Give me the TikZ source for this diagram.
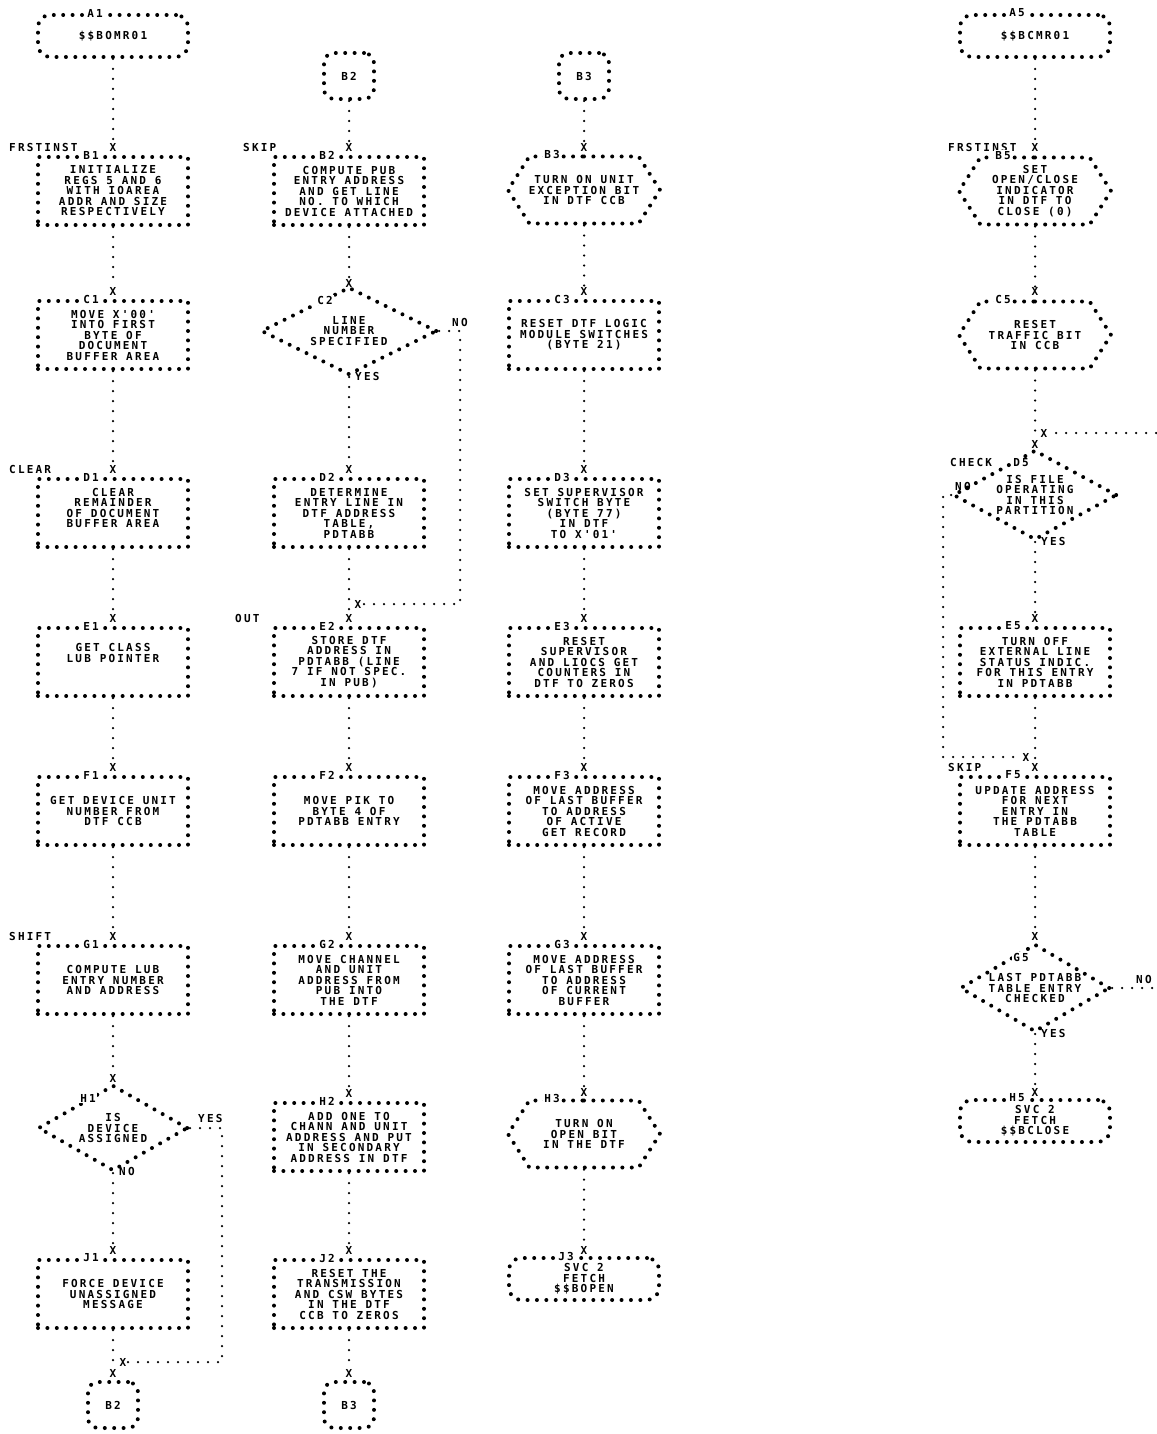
\documentclass[tikz,border=0pt]{standalone}
\usepackage{fontspec}
\newfontfamily\prtfont{DejaVu Sans Mono}[LetterSpace=20,Ligatures=TeXOff]
\usetikzlibrary{shapes.geometric,shapes.symbols}

\tikzset{
  prt/.style={font=\prtfont\bfseries\fontsize{11}{10.5}\selectfont},
  stars/.style={draw, line width=4pt, dash pattern=on 0pt off 9.4pt, line cap=round},
  dots/.style={draw, line width=2.5pt, dash pattern=on 0pt off 10pt, line cap=round},
  procbox/.style={stars, prt, rectangle, minimum width=150pt, minimum height=68pt, align=center, inner sep=0pt},
  termbox/.style={procbox, rounded corners=12pt, minimum height=42pt},
  hexbox/.style={stars, prt, signal, signal to=west and east, signal pointer angle=115, minimum width=152pt, minimum height=67pt, inner sep=0pt},
  decbox/.style={stars, prt, diamond, inner sep=0pt},
  pagebox/.style={stars, prt, rounded corners=10pt, minimum width=50pt, minimum height=46pt, inner sep=0pt},
  txt/.style={label={[prt,align=center,anchor=center]center:#1}},
  pid/.style 2 args={label={[tag,anchor=center,xshift=#2]north:#1}},
  tag/.style={prt, fill=white, inner sep=1pt},
  xmark/.style={prt, inner sep=0pt},
  entry/.style={prt, anchor=west, inner sep=0pt},
}

\begin{document}
\begin{tikzpicture}[x=1pt,y=-1pt]
  \fill[white] (0,0) rectangle (1156,1434);
  \useasboundingbox (0,0) rectangle (1156,1434);

  % column 1
  \node[termbox, pid={A1}{-18pt}] (a1) at (113,36) {\$\$BOMR01};
  \node[xmark] (b1x) at (113,147) {X};
  \node[entry] (frst1) at (9,147) {FRSTINST};
  \node[procbox, pid={B1}{-22pt}] (b1) at (113,191) {INITIALIZE\\REGS 5 AND 6\\WITH IOAREA\\ADDR AND SIZE\\RESPECTIVELY};
  \node[xmark] (c1x) at (113,291) {X};
  \node[procbox, pid={C1}{-22pt}] (c1) at (113,335) {MOVE X'00'\\INTO FIRST\\BYTE OF\\DOCUMENT\\BUFFER AREA};
  \node[xmark] (d1x) at (113,469) {X};
  \node[entry] (clear1) at (9,469) {CLEAR};
  \node[procbox, pid={D1}{-22pt}] (d1) at (113,513) {CLEAR\\REMAINDER\\OF DOCUMENT\\BUFFER AREA\\\mbox{}};
  \node[xmark] (e1x) at (113,618) {X};
  \node[procbox, pid={E1}{-22pt}] (e1) at (113,662) {\mbox{}\\GET CLASS\\LUB POINTER\\\mbox{}\\\mbox{}};
  \node[xmark] (f1x) at (113,767) {X};
  \node[procbox, pid={F1}{-22pt}] (f1) at (113,811) {GET DEVICE UNIT\\NUMBER FROM\\DTF CCB};
  \node[xmark] (g1x) at (113,936) {X};
  \node[entry] (shift1) at (9,936) {SHIFT};
  \node[procbox, pid={G1}{-22pt}] (g1) at (113,980) {COMPUTE LUB\\ENTRY NUMBER\\AND ADDRESS};
  \node[xmark] (h1x) at (113,1078) {X};
  \node[decbox, minimum width=150pt, minimum height=86pt, txt={IS\\DEVICE\\ASSIGNED}] (h1) at (113,1128) {};
  \node[tag] (h1id) at (88,1098) {H1};
  \node[entry] (h1yes) at (198,1118) {YES};
  \node[entry] (h1no) at (119,1171) {NO};
  \node[xmark] (j1x) at (113,1250) {X};
  \node[procbox, pid={J1}{-22pt}] (j1) at (113,1294) {FORCE DEVICE\\UNASSIGNED\\MESSAGE};
  \node[xmark] (j1m) at (123,1362) {X};
  \node[xmark] (o1x) at (113,1373) {X};
  \node[pagebox] (o1) at (113,1405) {B2};
  \coordinate (h1r) at (222,1128);

  % column 2
  \node[pagebox] (o2) at (349,76) {B2};
  \node[xmark] (b2x) at (349,147) {X};
  \node[entry] (skip2) at (243,147) {SKIP};
  \node[procbox, pid={B2}{-22pt}] (b2) at (349,191) {COMPUTE PUB\\ENTRY ADDRESS\\AND GET LINE\\NO. TO WHICH\\DEVICE ATTACHED};
  \node[xmark] (c2x) at (349,283) {X};
  \node[decbox, minimum width=176pt, minimum height=88pt, txt={LINE\\NUMBER\\SPECIFIED}] (c2) at (349,331) {};
  \node[tag] (c2id) at (325,300) {C2};
  \node[entry] (c2no) at (452,322) {NO};
  \node[entry] (c2yes) at (355,376) {YES};
  \node[xmark] (d2x) at (349,469) {X};
  \node[procbox, pid={D2}{-22pt}] (d2) at (349,513) {DETERMINE\\ENTRY LINE IN\\DTF ADDRESS\\TABLE,\\PDTABB};
  \node[xmark] (e2m) at (358,604) {X};
  \node[xmark] (e2x) at (349,618) {X};
  \node[entry] (out2) at (235,618) {OUT};
  \node[procbox, pid={E2}{-22pt}] (e2) at (349,662) {STORE DTF\\ADDRESS IN\\PDTABB (LINE\\7 IF NOT SPEC.\\IN PUB)};
  \node[xmark] (f2x) at (349,767) {X};
  \node[procbox, pid={F2}{-22pt}] (f2) at (349,811) {MOVE PIK TO\\BYTE 4 OF\\PDTABB ENTRY};
  \node[xmark] (g2x) at (349,936) {X};
  \node[procbox, pid={G2}{-22pt}] (g2) at (349,980) {MOVE CHANNEL\\AND UNIT\\ADDRESS FROM\\PUB INTO\\THE DTF};
  \node[xmark] (h2x) at (349,1093) {X};
  \node[procbox, pid={H2}{-22pt}] (h2) at (349,1137) {ADD ONE TO\\CHANN AND UNIT\\ADDRESS AND PUT\\IN SECONDARY\\ADDRESS IN DTF};
  \node[xmark] (j2x) at (349,1250) {X};
  \node[procbox, pid={J2}{-22pt}] (j2) at (349,1294) {RESET THE\\TRANSMISSION\\AND CSW BYTES\\IN THE DTF\\CCB TO ZEROS};
  \node[xmark] (o3x) at (349,1373) {X};
  \node[pagebox] (o3) at (349,1405) {B3};
  \coordinate (c2r) at (460,331);

  % column 3
  \node[pagebox] (o4) at (584,76) {B3};
  \node[xmark] (b3x) at (584,147) {X};
  \node[hexbox, pid={B3}{-32pt}, txt={TURN ON UNIT\\EXCEPTION BIT\\IN DTF CCB}] (b3) at (584,190) {};
  \node[xmark] (c3x) at (584,291) {X};
  \node[procbox, pid={C3}{-22pt}] (c3) at (584,335) {RESET DTF LOGIC\\MODULE SWITCHES\\(BYTE 21)};
  \node[xmark] (d3x) at (584,469) {X};
  \node[procbox, pid={D3}{-22pt}] (d3) at (584,513) {SET SUPERVISOR\\SWITCH BYTE\\(BYTE 77)\\IN DTF\\TO X'01'};
  \node[xmark] (e3x) at (584,618) {X};
  \node[procbox, pid={E3}{-22pt}] (e3) at (584,662) {RESET\\SUPERVISOR\\AND LIOCS GET\\COUNTERS IN\\DTF TO ZEROS};
  \node[xmark] (f3x) at (584,767) {X};
  \node[procbox, pid={F3}{-22pt}] (f3) at (584,811) {MOVE ADDRESS\\OF LAST BUFFER\\TO ADDRESS\\OF ACTIVE\\GET RECORD};
  \node[xmark] (g3x) at (584,936) {X};
  \node[procbox, pid={G3}{-22pt}] (g3) at (584,980) {MOVE ADDRESS\\OF LAST BUFFER\\TO ADDRESS\\OF CURRENT\\BUFFER};
  \node[xmark] (h3x) at (584,1092) {X};
  \node[hexbox, pid={H3}{-32pt}, txt={TURN ON\\OPEN BIT\\IN THE DTF}] (h3) at (584,1134) {};
  \node[xmark] (j3x) at (584,1250) {X};
  \node[termbox, pid={J3}{-18pt}] (j3) at (584,1279) {SVC 2\\FETCH\\\$\$BOPEN};

  % column 5
  \node[termbox, pid={A5}{-18pt}] (a5) at (1035,36) {\$\$BCMR01};
  \node[xmark] (b5x) at (1035,147) {X};
  \node[entry] (frst5) at (948,147) {FRSTINST};
  \node[hexbox, pid={B5}{-32pt}, txt={SET\\OPEN/CLOSE\\INDICATOR\\IN DTF TO\\CLOSE (0)}] (b5) at (1035,191) {};
  \node[xmark] (c5x) at (1035,291) {X};
  \node[hexbox, pid={C5}{-32pt}, txt={RESET\\TRAFFIC BIT\\IN CCB}] (c5) at (1035,335) {};
  \node[xmark] (d5m) at (1044,433) {X};
  \node[xmark] (d5x) at (1035,444) {X};
  \node[entry] (check5) at (950,462) {CHECK};
  \node[decbox, minimum width=164pt, minimum height=90pt, txt={IS FILE\\OPERATING\\IN THIS\\PARTITION}] (d5) at (1035,495) {};
  \node[tag] (d5id) at (1021,463) {D5};
  \node[entry] (d5no) at (955,486) {NO};
  \node[entry] (d5yes) at (1041,541) {YES};
  \node[xmark] (e5x) at (1035,618) {X};
  \node[procbox, pid={E5}{-22pt}] (e5) at (1035,662) {TURN OFF\\EXTERNAL LINE\\STATUS INDIC.\\FOR THIS ENTRY\\IN PDTABB};
  \node[xmark] (f5m) at (1026,757) {X};
  \node[xmark] (f5x) at (1035,767) {X};
  \node[entry] (skip5) at (948,767) {SKIP};
  \node[procbox, pid={F5}{-22pt}] (f5) at (1035,811) {UPDATE ADDRESS\\FOR NEXT\\ENTRY IN\\THE PDTABB\\TABLE};
  \node[xmark] (g5x) at (1035,936) {X};
  \node[decbox, minimum width=150pt, minimum height=88pt, txt={LAST PDTABB\\TABLE ENTRY\\CHECKED}] (g5) at (1035,988) {};
  \node[tag] (g5id) at (1021,957) {G5};
  \node[entry] (g5no) at (1136,979) {NO};
  \node[entry] (g5yes) at (1041,1033) {YES};
  \node[xmark] (h5x) at (1035,1092) {X};
  \node[termbox, pid={H5}{-18pt}] (h5) at (1035,1121) {SVC 2\\FETCH\\\$\$BCLOSE};
  \coordinate (d5in) at (1156,433);
  \coordinate (d5l) at (943,495);
  \coordinate (g5out) at (1156,988);

  % flow lines
  \draw[dots] (a1) -- (b1x) (b1) -- (c1x) (c1) -- (d1x) (d1) -- (e1x)
    (e1) -- (f1x) (f1) -- (g1x) (g1) -- (h1x) (h1) -- (j1x) (j1) -- (o1x);
  \draw[dots] (h1.east) -- (h1r) |- (j1m);
  \draw[dots] (o2) -- (b2x) (b2) -- (c2x) (c2) -- (d2x) (d2) -- (e2x)
    (e2) -- (f2x) (f2) -- (g2x) (g2) -- (h2x) (h2) -- (j2x) (j2) -- (o3x);
  \draw[dots] (c2.east) -- (c2r) |- (e2m);
  \draw[dots] (o4) -- (b3x) (b3) -- (c3x) (c3) -- (d3x) (d3) -- (e3x)
    (e3) -- (f3x) (f3) -- (g3x) (g3) -- (h3x) (h3) -- (j3x);
  \draw[dots] (a5) -- (b5x) (b5) -- (c5x) (c5) -- (d5x) (d5) -- (e5x)
    (e5) -- (f5x) (f5) -- (g5x) (g5) -- (h5x);
  \draw[dots] (d5in) -- (d5m);
  \draw[dots] (d5.west) -- (d5l) |- (f5m);
  \draw[dots] (g5.east) -- (g5out);
\end{tikzpicture}
\end{document}
